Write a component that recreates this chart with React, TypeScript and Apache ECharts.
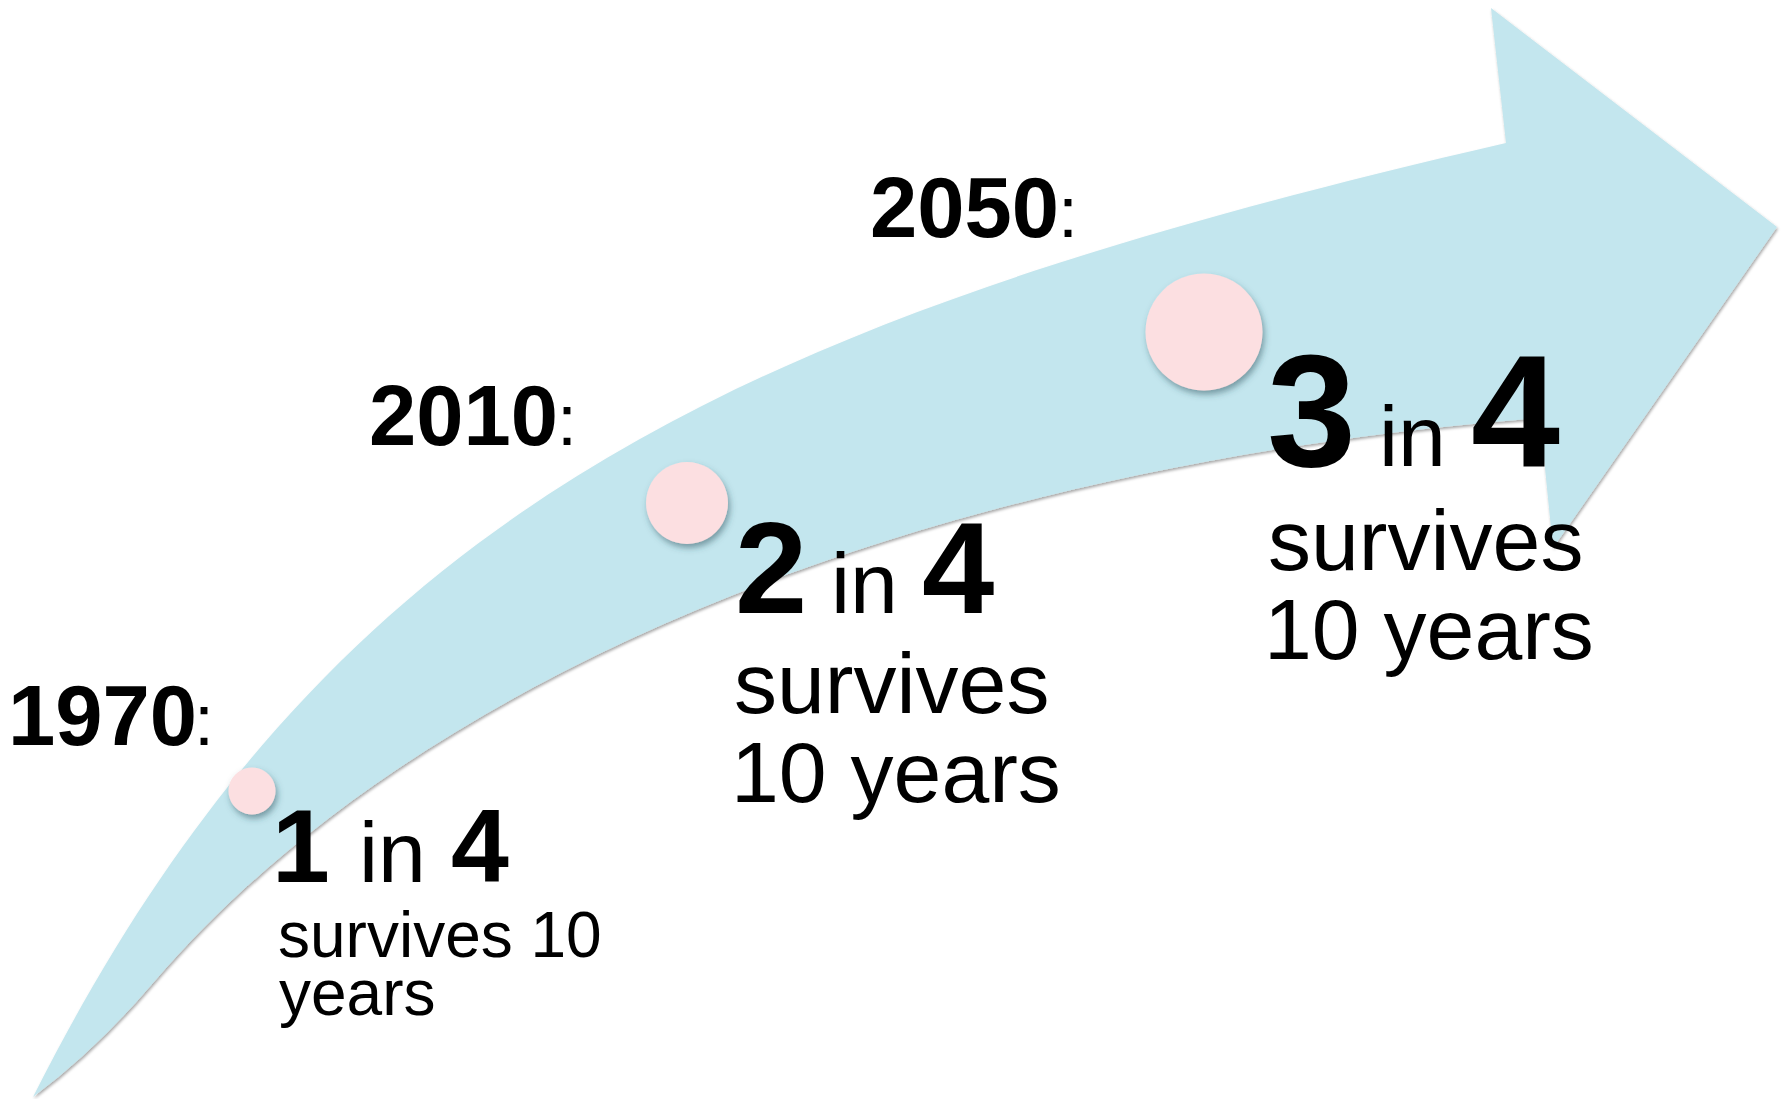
import React, { useEffect, useRef } from 'react';
import * as echarts from 'echarts';

// ---------- data ----------
const years = ['1970', '2010', '2050'];
const survivors = [1, 2, 3];
const cohort = [4, 4, 4];
const captionLines = [
  ['survives 10', 'years'],
  ['survives', '10 years'],
  ['survives', '10 years'],
];

// ---------- layout (design positions, not data) ----------
const W = 1786;
const H = 1099;
const FONT = '"Liberation Sans", Arial, Helvetica, sans-serif';

// arrow outline: tail -> upper edge -> head -> lower edge -> tail
const tail = [33, 1097];
const upperCtrl = [[325, 517], [727, 323]];
const upperNotch = [1506, 143];
const arrowHead = [[1491, 8], [1777, 227], [1553, 548], [1540, 418]];
const lowerCtrl = [[942, 465], [426, 664]];
const lowerJoin = [153, 983];
const tailCtrl = [96, 1050];

const circleAt = [[252, 791], [687, 503], [1204, 332]];
const yearLayout = [
  { x: 8, colonX: 194, base: 745 },
  { x: 369, colonX: 557, base: 445 },
  { x: 870, colonX: 1058, base: 237 },
];
const ratioLayout = [
  { xs: [272, 359, 451], base: 882, big: 104, small: 86 },
  { xs: [735, 831, 922], base: 613, big: 130, small: 86 },
  { xs: [1267, 1379, 1471], base: 466, big: 160, small: 86 },
];
const captionLayout = [
  { xs: [278, 279], base: 957, fs: 64, lh: 58 },
  { xs: [734, 731], base: 713, fs: 86, lh: 89 },
  { xs: [1268, 1264], base: 570, fs: 86, lh: 89 },
];

function pt(p: number[]) {
  return `${p[0]},${p[1]}`;
}

function arrowD(): string {
  let d = `M${pt(tail)}`;
  d += `C${pt(upperCtrl[0])},${pt(upperCtrl[1])},${pt(upperNotch)}`;
  for (const p of arrowHead) d += `L${pt(p)}`;
  d += `C${pt(lowerCtrl[0])},${pt(lowerCtrl[1])},${pt(lowerJoin)}`;
  d += `Q${pt(tailCtrl)},${pt(tail)}`;
  d += 'Z';
  return d;
}

let registered = false;
function ensureShape() {
  if (registered) return;
  echarts.graphic.registerShape('survivalArrow', echarts.graphic.extendPath(arrowD(), {}) as any);
  registered = true;
}

function txt(text: string, x: number, base: number, fs: number, bold: boolean) {
  return {
    type: 'text',
    z: 100,
    x,
    y: base - 0.3465 * fs,
    style: {
      text,
      fontSize: fs,
      lineHeight: fs,
      fontWeight: bold ? 'bold' : 'normal',
      fontFamily: FONT,
      fill: '#000000',
      align: 'left',
      verticalAlign: 'middle',
      textAlign: 'left',
      textVerticalAlign: 'middle',
    },
  };
}

export default function App() {
  const ref = useRef<HTMLDivElement>(null);

  useEffect(() => {
    if (!ref.current) return;
    ensureShape();
    const chart = echarts.init(ref.current, undefined, { renderer: 'svg' });

    const texts: any[] = [];
    years.forEach((yr, i) => {
      const yl = yearLayout[i];
      texts.push(txt(yr, yl.x, yl.base, 85, true));
      texts.push(txt(':', yl.colonX, yl.base, 72, false));
      const rl = ratioLayout[i];
      texts.push(txt(String(survivors[i]), rl.xs[0], rl.base, rl.big, true));
      texts.push(txt('in', rl.xs[1], rl.base, rl.small, false));
      texts.push(txt(String(cohort[i]), rl.xs[2], rl.base, rl.big, true));
      const cl = captionLayout[i];
      captionLines[i].forEach((line, j) => {
        texts.push(txt(line, cl.xs[j], cl.base + j * cl.lh, cl.fs, false));
      });
    });

    chart.setOption({
      animation: false,
      backgroundColor: '#ffffff',
      grid: { left: 0, right: 0, top: 0, bottom: 0 },
      xAxis: { type: 'value', min: 0, max: W, show: false },
      yAxis: { type: 'value', min: 0, max: H, inverse: true, show: false },
      graphic: {
        elements: [
          {
            type: 'survivalArrow',
            z: 0,
            x: 0,
            y: 0,
            style: {
              fill: '#C3E6EE',
              shadowBlur: 3,
              shadowColor: 'rgba(0,0,0,0.35)',
              shadowOffsetX: 1,
              shadowOffsetY: 2,
            },
          },
          ...texts,
        ],
      },
      series: [
        {
          type: 'scatter',
          z: 5,
          data: circleAt.map((p, i) => [p[0], p[1], survivors[i]]),
          symbol: 'circle',
          symbolSize: (v: number[]) => 12 + 35 * v[2],
          itemStyle: {
            color: '#FCDFE1',
            opacity: 1,
            shadowBlur: 6,
            shadowColor: 'rgba(40,80,90,0.5)',
            shadowOffsetX: 2,
            shadowOffsetY: 4,
          },
          emphasis: { disabled: true },
          silent: true,
        },
      ],
    });

    return () => chart.dispose();
  }, []);

  return (
    <div
      ref={ref}
      style={{ position: 'fixed', left: 0, top: 0, width: W, height: H, background: '#ffffff' }}
    />
  );
}
